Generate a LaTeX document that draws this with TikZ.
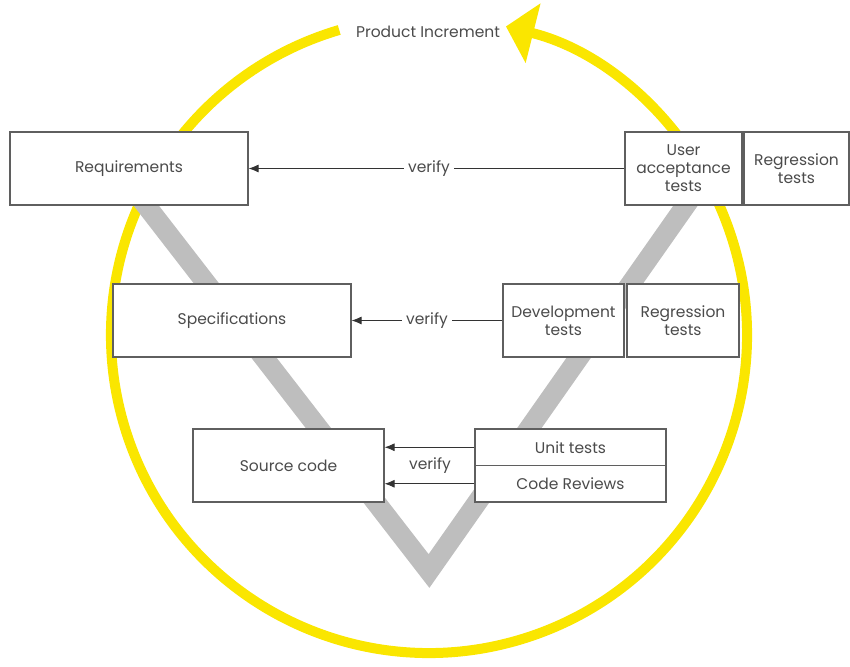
\documentclass[tikz,border=0pt]{standalone}
\usepackage{fontspec}
\setmainfont{Poppins}
\usetikzlibrary{arrows.meta}
\definecolor{ringyellow}{RGB}{250,230,0}
\definecolor{vgray}{RGB}{190,190,190}
\definecolor{boxline}{RGB}{95,95,95}
\definecolor{txt}{RGB}{75,75,75}
\begin{document}
\begin{tikzpicture}[x=1pt,y=1pt]
				\tikzstyle{every node}=[text=txt,font=\fontsize{15.5}{18}\selectfont,align=center]
				\tikzstyle{box}=[draw=boxline,line width=1.2pt,fill=white,minimum height=73pt,inner sep=2pt]
				\tikzstyle{half}=[box,minimum height=36.5pt]
				\tikzstyle{check}=[draw=black!80,line width=0.9pt,-{Latex[length=10pt,width=8pt]}]
				\tikzstyle{lbl}=[fill=white,inner sep=4pt]
				\tikzstyle{ring}=[draw=ringyellow,line width=10pt,-{Triangle[length=28pt,width=60pt]}]
				\useasboundingbox (0,0) rectangle (850,-666);
				\coordinate (mid) at (429,-335);
				\draw[ring] (mid) ++(106.4:318) arc[start angle=106.4,end angle=436,radius=318pt];
				\node (inc) at (428,-32) {Product Increment};
				\draw[vgray,line width=20pt,line join=miter] (138,-195) -- (429,-571) -- (693,-195);
				\node[box,minimum width=238pt] (req) at (129,-168.5) {Requirements};
				\node[box,minimum width=117pt] (uat) at (683.5,-168.5) {User\\acceptance\\tests};
				\node[box,minimum width=105pt] (reg1) at (796.5,-168.5) {Regression\\tests};
				\node[box,minimum width=238pt] (spec) at (232,-320.5) {Specifications};
				\node[box,minimum width=121pt] (dev) at (563.5,-320.5) {Development\\tests};
				\node[box,minimum width=112pt] (reg2) at (683,-320.5) {Regression\\tests};
				\node[box,minimum width=191pt] (src) at (288.5,-465.5) {Source code};
				\node[half,minimum width=191pt] (unit) at (570.5,-447.25) {Unit tests};
				\node[half,minimum width=191pt] (rev) at (570.5,-483.75) {Code Reviews};
				\draw[check] (uat.west) -- node[lbl,pos=0.52] (v1) {verify} (req.east);
				\draw[check] (dev.west) -- node[lbl,pos=0.5] (v2) {verify} (spec.east);
				\draw[check] (unit.west) -- (unit.west -| src.east);
				\draw[check] (rev.west) -- (rev.west -| src.east);
				\node (v3) at (430,-465.5) {verify};
\end{tikzpicture}
\end{document}
